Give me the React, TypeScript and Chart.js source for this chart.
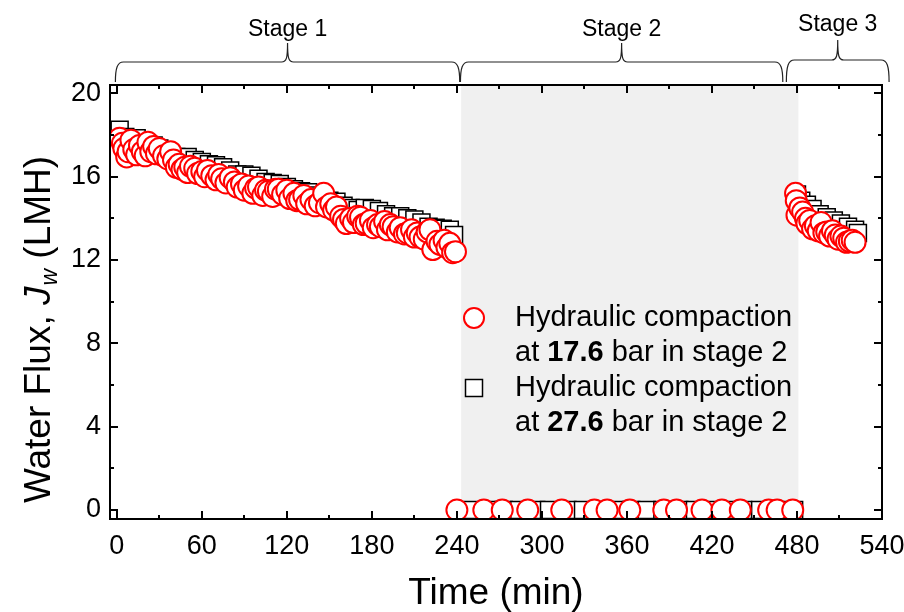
import React, { useEffect, useRef } from "react";
import { Chart, registerables } from "chart.js";

Chart.register(...registerables);

// ---------------- DATA ----------------
// Hydraulic compaction at 17.6 bar in stage 2 (red circles)
const circleTime = [
  2, 4, 5, 7, 8, 10, 12, 14, 16, 18, 20, 22, 24, 26, 28, 30, 33, 36, 38, 40,
  42, 44, 46, 48, 50, 52, 55, 57, 60, 62, 64, 67, 70, 72, 74, 77, 80, 83, 85, 88,
  90, 93, 96, 98, 100, 103, 105, 107, 110, 112, 114, 117, 120, 122, 125, 127, 129, 132, 134, 137,
  140, 143, 146, 148, 151, 153, 155, 158, 160, 162, 165, 167, 170, 172, 174, 176, 179, 181, 184, 186,
  189, 191, 193, 195, 198, 200, 203, 205, 208, 210, 212, 214, 217, 219, 221, 223, 226, 228, 231, 233,
  235, 237, 239,
  240, 259, 272, 290, 314, 337, 346, 362, 386, 395, 413, 427, 440, 460, 466, 477,
  479, 479.5, 480, 482, 484, 486, 487, 489, 491, 493, 495, 497, 499, 501, 503, 505, 507, 509, 511, 513,
  515, 517, 519, 521,
];
const circleFlux = [
  17.85, 17.6, 17.35, 16.95, 17.2, 17.75, 17.3, 17.05, 17.5, 17.2, 17.0, 17.65, 17.2, 17.45, 17.1, 17.35, 17.0, 16.85, 17.2, 16.8,
  16.45, 16.6, 16.35, 16.45, 16.2, 16.5, 16.4, 16.15, 16.25, 16.0, 16.3, 16.05, 15.85, 16.1, 15.9, 15.7, 15.95, 15.75, 15.5, 15.65,
  15.35, 15.55, 15.2, 15.45, 15.5, 15.1, 15.35, 15.3, 15.05, 15.4, 15.4, 15.15, 15.35, 14.95, 15.2, 14.85, 14.9, 15.1, 14.7, 14.9,
  14.6, 14.75, 15.2, 14.55, 14.7, 14.4, 14.55, 14.1, 13.95, 13.75, 14.0, 13.8, 14.1, 14.05, 13.7, 13.75, 13.9, 13.55, 13.7, 13.6,
  13.85, 13.45, 13.7, 13.6, 13.35, 13.55, 13.25, 13.3, 13.45, 13.1, 13.3, 13.1, 13.0, 13.35, 13.45, 12.5, 12.9, 12.75, 12.95, 12.6,
  12.8, 12.35, 12.4,
  0, 0, 0, 0, 0, 0, 0, 0, 0, 0, 0, 0, 0, 0, 0, 0,
  15.2, 14.85, 14.15, 14.5, 14.3, 14.0, 13.75, 13.9, 13.5, 13.65, 13.4, 13.8, 13.3, 13.35, 13.15, 13.4, 13.2, 13.0, 13.15, 13.05,
  12.85, 12.9, 12.95, 12.85,
];

// Hydraulic compaction at 27.6 bar in stage 2 (black squares)
const squareTime = [
  2, 6, 10, 14, 18, 22, 26, 30, 34, 38, 42, 46, 50, 55, 60, 65, 70, 75, 80, 85,
  90, 95, 100, 105, 110, 115, 120, 125, 130, 135, 140, 145, 150, 155, 160, 165, 170, 175, 180, 185,
  190, 195, 200, 205, 210, 215, 220, 225, 230, 235, 238,
  251, 262, 273, 284, 296, 305, 318, 329, 340, 352, 363, 374, 385, 397, 408, 420, 431, 442, 454, 465, 478,
  480, 483, 487, 491, 496, 501, 506, 511, 516, 521, 523,
];
const squareFlux = [
  18.25, 17.9, 17.7, 17.85, 17.55, 17.3, 17.5, 17.35, 17.15, 17.05, 16.95, 16.9, 16.95, 16.8, 16.7, 16.6, 16.55, 16.45, 16.3, 16.1,
  16.1, 16.05, 15.9, 15.75, 15.7, 15.65, 15.5, 15.4, 15.3, 15.25, 15.1, 15.0, 14.85, 14.8, 14.6, 14.5, 14.4, 14.5, 14.45, 14.35,
  14.2, 14.1, 14.1, 14.0, 13.95, 13.8, 13.6, 13.55, 13.5, 13.45, 13.2,
  0, 0, 0, 0, 0, 0, 0, 0, 0, 0, 0, 0, 0, 0, 0, 0, 0, 0, 0, 0, 0,
  15.15, 14.85, 14.65, 14.45, 14.2, 14.05, 13.9, 13.75, 13.6, 13.45, 13.3,
];

const xTickValues = [0, 60, 120, 180, 240, 300, 360, 420, 480, 540];
const yTickValues = [0, 4, 8, 12, 16, 20];
const xMinorStep = 30;
const yMinorStep = 2;
const xRange = [-4.8, 540];
const yRange = [-0.43, 20.4];

const stageNames = ["Stage 1", "Stage 2", "Stage 3"];
const stageStart = [-1, 242.5, 472.5];
const stageEnd = [242, 470, 545];
const shadeRange = [243, 481];

const legendTitle = "Hydraulic compaction";
const legendPressure = ["17.6", "27.6"];

const FONT = "'Liberation Sans', Arial, Helvetica, sans-serif";

function drawBrace(ctx: CanvasRenderingContext2D, x1: number, x2: number, yBase: number, yLine: number, yTip: number) {
  const tip = (x1 + x2) / 2;
  ctx.beginPath();
  ctx.moveTo(x1, yBase);
  ctx.bezierCurveTo(x1, yLine + 6, x1 + 2, yLine, x1 + 8, yLine);
  ctx.lineTo(tip - 6, yLine);
  ctx.bezierCurveTo(tip - 1, yLine, tip, yLine - 4, tip, yTip);
  ctx.bezierCurveTo(tip, yLine - 4, tip + 1, yLine, tip + 6, yLine);
  ctx.lineTo(x2 - 8, yLine);
  ctx.bezierCurveTo(x2 - 2, yLine, x2, yLine + 6, x2, yBase);
  ctx.stroke();
}

const decorPlugin = {
  id: "decor",
  beforeDatasetsDraw(chart: any) {
    const { ctx, chartArea: a, scales } = chart;
    const x = scales.x;
    ctx.save();
    ctx.fillStyle = "#f0f0f0";
    const x0 = x.getPixelForValue(shadeRange[0]);
    const x1 = x.getPixelForValue(shadeRange[1]);
    ctx.fillRect(x0, a.top, x1 - x0, a.bottom - a.top);
    ctx.restore();
  },
  afterDraw(chart: any) {
    const { ctx, chartArea: a, scales } = chart;
    const x = scales.x;
    const y = scales.y;
    ctx.save();
    // frame
    ctx.strokeStyle = "#000";
    ctx.lineWidth = 2;
    ctx.strokeRect(a.left, a.top, a.right - a.left, a.bottom - a.top);
    // ticks
    ctx.beginPath();
    for (let v = xTickValues[0]; v <= xTickValues[xTickValues.length - 1]; v += xMinorStep) {
      const px = Math.round(x.getPixelForValue(v));
      const major = xTickValues.includes(v);
      const len = major ? 8 : 4;
      ctx.moveTo(px, a.bottom);
      ctx.lineTo(px, a.bottom - len);
      ctx.moveTo(px, a.top);
      ctx.lineTo(px, a.top + len);
    }
    for (let v = yTickValues[0]; v <= yTickValues[yTickValues.length - 1]; v += yMinorStep) {
      const py = Math.round(y.getPixelForValue(v));
      const major = yTickValues.includes(v);
      const len = major ? 8 : 4;
      ctx.moveTo(a.left, py);
      ctx.lineTo(a.left + len, py);
      ctx.moveTo(a.right, py);
      ctx.lineTo(a.right - len, py);
    }
    ctx.stroke();

    // braces
    ctx.strokeStyle = "#222";
    ctx.lineWidth = 1.2;
    const braceBase = [82, 82, 82];
    const braceLine = [62, 62, 60];
    const braceTip = [43, 43, 40];
    const labelY = [30, 30, 25];
    ctx.fillStyle = "#000";
    ctx.font = `23px ${FONT}`;
    ctx.textAlign = "center";
    ctx.textBaseline = "middle";
    for (let i = 0; i < stageNames.length; i++) {
      const s = x.getPixelForValue(stageStart[i]);
      const e = x.getPixelForValue(stageEnd[i]);
      drawBrace(ctx, s, e, braceBase[i], braceLine[i], braceTip[i]);
      ctx.fillText(stageNames[i], (s + e) / 2, labelY[i]);
    }

    // legend
    const lx = 474;
    const tx = 515;
    ctx.lineWidth = 2;
    ctx.strokeStyle = "#ff0000";
    ctx.fillStyle = "#fff";
    ctx.beginPath();
    ctx.arc(lx, 318, 10, 0, Math.PI * 2);
    ctx.fill();
    ctx.stroke();
    ctx.strokeStyle = "#000";
    ctx.lineWidth = 1.5;
    ctx.fillRect(lx - 8.5, 388 - 8.5, 17, 17);
    ctx.strokeRect(lx - 8.5, 388 - 8.5, 17, 17);

    ctx.fillStyle = "#000";
    ctx.textAlign = "left";
    ctx.textBaseline = "middle";
    const rows = [318, 388];
    for (let i = 0; i < 2; i++) {
      const r = rows[i];
      ctx.font = `29px ${FONT}`;
      ctx.fillText(legendTitle, tx, r);
      let cx = tx;
      const y2 = r + 35;
      ctx.fillText("at ", cx, y2);
      cx += ctx.measureText("at ").width;
      ctx.font = `bold 29px ${FONT}`;
      ctx.fillText(legendPressure[i], cx, y2);
      cx += ctx.measureText(legendPressure[i]).width;
      ctx.font = `29px ${FONT}`;
      ctx.fillText(" bar in stage 2", cx, y2);
    }

    // x title
    ctx.textAlign = "center";
    ctx.textBaseline = "alphabetic";
    ctx.font = `37px ${FONT}`;
    ctx.fillText("Time (min)", (a.left + a.right) / 2, 604);

    // y title
    ctx.save();
    ctx.translate(50, (a.top + a.bottom) / 2 + 28);
    ctx.rotate(-Math.PI / 2);
    ctx.textAlign = "left";
    ctx.textBaseline = "alphabetic";
    const p1 = "Water Flux, ";
    const p2 = "J";
    const p3 = "w";
    const p4 = " (LMH)";
    ctx.font = `37px ${FONT}`;
    const w1 = ctx.measureText(p1).width;
    ctx.font = `italic 37px ${FONT}`;
    const w2 = ctx.measureText(p2).width;
    ctx.font = `italic 23px ${FONT}`;
    const w3 = ctx.measureText(p3).width;
    ctx.font = `37px ${FONT}`;
    const w4 = ctx.measureText(p4).width;
    let cx = -(w1 + w2 + w3 + w4) / 2;
    ctx.font = `37px ${FONT}`;
    ctx.fillText(p1, cx, 0);
    cx += w1;
    ctx.font = `italic 37px ${FONT}`;
    ctx.fillText(p2, cx, 0);
    cx += w2 + 1;
    ctx.font = `italic 23px ${FONT}`;
    ctx.fillText(p3, cx, 7);
    cx += w3;
    ctx.font = `37px ${FONT}`;
    ctx.fillText(p4, cx, 0);
    ctx.restore();

    ctx.restore();
  },
};

export default function App() {
  const ref = useRef<HTMLCanvasElement>(null);
  useEffect(() => {
    document.body.style.margin = "0";
    const canvas = ref.current!;
    const circles = circleTime.map((t, i) => ({ x: t, y: circleFlux[i] }));
    const squares = squareTime.map((t, i) => ({ x: t, y: squareFlux[i] }));
    const chart = new Chart(canvas, {
      type: "scatter",
      data: {
        datasets: [
          {
            label: "Hydraulic compaction at 17.6 bar in stage 2",
            data: circles,
            pointStyle: "circle",
            pointRadius: 10.5,
            pointBorderWidth: 2,
            borderColor: "#ff0000",
            backgroundColor: "#ffffff",
            order: 1,
          },
          {
            label: "Hydraulic compaction at 27.6 bar in stage 2",
            data: squares,
            pointStyle: "rect",
            pointRadius: 12,
            pointBorderWidth: 1.5,
            borderColor: "#000000",
            backgroundColor: "#ffffff",
            order: 2,
          },
        ],
      },
      options: {
        responsive: false,
        animation: false,
        devicePixelRatio: 1,
        layout: { padding: { top: 85, right: 22, left: 0, bottom: 0 } },
        plugins: { legend: { display: false }, tooltip: { enabled: false } },
        scales: {
          x: {
            type: "linear",
            min: xRange[0],
            max: xRange[1],
            grid: { display: false, drawTicks: false },
            border: { display: false },
            ticks: {
              color: "#000",
              font: { family: FONT, size: 27 },
              padding: 11,
              maxRotation: 0,
            },
            afterBuildTicks: (s: any) => {
              s.ticks = xTickValues.map((v) => ({ value: v }));
            },
            afterFit: (s: any) => {
              s.height = 93;
              s.paddingLeft = 0;
              s.paddingRight = 0;
            },
          },
          y: {
            type: "linear",
            min: yRange[0],
            max: yRange[1],
            grid: { display: false, drawTicks: false },
            border: { display: false },
            ticks: {
              color: "#000",
              font: { family: FONT, size: 27 },
              padding: 9,
            },
            afterBuildTicks: (s: any) => {
              s.ticks = yTickValues.map((v) => ({ value: v }));
            },
            afterFit: (s: any) => {
              s.width = 110;
              s.paddingTop = 0;
              s.paddingBottom = 0;
            },
          },
        },
      },
      plugins: [decorPlugin],
    });
    return () => chart.destroy();
  }, []);
  return (
    <div style={{ width: 904, height: 612, background: "#fff" }}>
      <canvas ref={ref} width={904} height={612} style={{ display: "block" }} />
    </div>
  );
}
